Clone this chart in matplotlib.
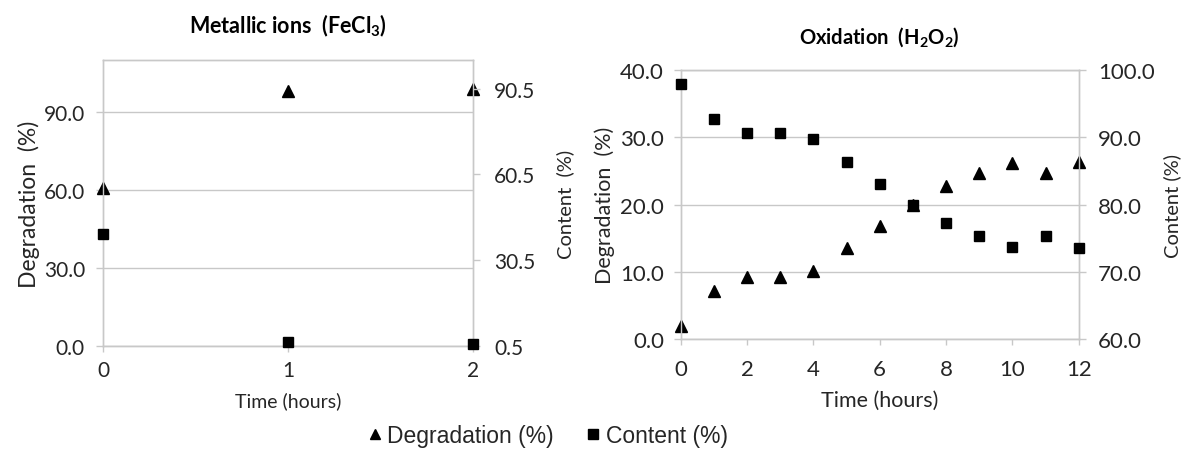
import matplotlib
matplotlib.use("Agg")
import matplotlib.pyplot as plt
from matplotlib.lines import Line2D

plt.rcParams['mathtext.default'] = 'regular'
plt.rcParams['font.family'] = ['Lato', 'DejaVu Sans']

# ---- data: Metallic ions (FeCl3) ----
fe_time = [0, 1, 2]
fe_degradation = [60.9, 98.2, 98.9]   # left axis
fe_content = [39.7, 2.0, 1.2]         # right axis

# ---- data: Oxidation (H2O2) ----
ox_time = [0, 1, 2, 3, 4, 5, 6, 7, 8, 9, 10, 11, 12]
ox_degradation = [1.9, 7.2, 9.2, 9.2, 10.2, 13.6, 16.8, 19.9, 22.7, 24.7, 26.2, 24.7, 26.4]
ox_content = [98.0, 92.7, 90.7, 90.7, 89.7, 86.3, 83.0, 79.9, 77.2, 75.3, 73.7, 75.3, 73.5]

fe_left_ticks = [0, 30, 60, 90]
fe_right_ticks = [0.5, 30.5, 60.5, 90.5]
ox_left_ticks = [0, 10, 20, 30, 40]
ox_right_ticks = [60, 70, 80, 90, 100]

GRID = '#c8c8c8'
TXT = '#262626'

fig = plt.figure(figsize=(11.88, 4.56), dpi=100)


def style_axes(ax, ax2, tick_size):
    for a in (ax, ax2):
        for s in a.spines.values():
            s.set_color(GRID)
            s.set_linewidth(1.0)
        a.tick_params(colors=GRID, labelcolor=TXT, length=5, width=1.0,
                      labelsize=tick_size)
    ax.yaxis.grid(True, color=GRID, linewidth=1.0)
    ax.set_axisbelow(True)


# ================= left panel =================
ax1 = fig.add_axes([0.0867, 0.239, 0.3115, 0.627])
ax1b = ax1.twinx()
ax1.plot(fe_time, fe_degradation, '^', color='black', markersize=9, zorder=3)
ax1b.plot(fe_time, fe_content, 's', color='black', markersize=7.5, zorder=3)
ax1.set_xlim(0, 2)
ax1.set_ylim(0, 110)
ax1b.set_ylim(0.5, 100.5)
ax1.set_xticks(fe_time)
ax1.set_yticks(fe_left_ticks)
ax1.set_yticklabels([f'{v:.1f}' for v in fe_left_ticks])
ax1b.set_yticks(fe_right_ticks)
ax1b.set_yticklabels([f'{v:.1f}' for v in fe_right_ticks])
style_axes(ax1, ax1b, 15)
ax1.tick_params(axis='x', length=4, pad=6)
ax1b.tick_params(axis='y', pad=10)
ax1.tick_params(axis='y', pad=8)
ax1.set_title('Metallic ions  (FeCl$_3$)', fontsize=15.5, fontweight='bold',
              color='black', pad=20)
ax1.set_xlabel('Time (hours)', fontsize=14, color=TXT, labelpad=8)
ax1.set_ylabel('Degradation  (%)', fontsize=16.5, color=TXT, labelpad=3)
ax1b.set_ylabel('Content  (%)', fontsize=14.5, color=TXT, labelpad=15)
for a in (ax1, ax1b):
    for p in a.lines:
        p.set_clip_on(False)

# ================= right panel =================
ax2 = fig.add_axes([0.573, 0.254, 0.335, 0.59])
ax2b = ax2.twinx()
ax2.plot(ox_time, ox_degradation, '^', color='black', markersize=8, zorder=3)
ax2b.plot(ox_time, ox_content, 's', color='black', markersize=7.5, zorder=3)
ax2.set_xlim(0, 12)
ax2.set_ylim(0, 40)
ax2b.set_ylim(60, 100)
ax2.set_xticks(ox_time[::2])
ax2.set_yticks(ox_left_ticks)
ax2.set_yticklabels([f'{v:.1f}' for v in ox_left_ticks])
ax2b.set_yticks(ox_right_ticks)
ax2b.set_yticklabels([f'{v:.1f}' for v in ox_right_ticks])
style_axes(ax2, ax2b, 16)
ax2.tick_params(axis='x', length=4, pad=10)
ax2.tick_params(axis='y', pad=7)
ax2b.tick_params(axis='y', pad=9)
ax2.set_title('Oxidation  (H$_2$O$_2$)', fontsize=14.5, fontweight='bold',
              color='black', pad=20)
ax2.set_xlabel('Time (hours)', fontsize=15.5, color=TXT, labelpad=8)
ax2.set_ylabel('Degradation  (%)', fontsize=15.5, color=TXT, labelpad=4)
ax2b.set_ylabel('Content (%)', fontsize=14.5, color=TXT, labelpad=6)
for a in (ax2, ax2b):
    for p in a.lines:
        p.set_clip_on(False)

# ================= legend =================
handles = [
    Line2D([], [], marker='^', linestyle='none', color='black', markersize=7),
    Line2D([], [], marker='s', linestyle='none', color='black', markersize=6.5),
]
fig.legend(handles, ['Degradation (%)', 'Content (%)'], loc='center',
           bbox_to_anchor=(0.461, 0.042), ncol=2, frameon=False,
           handlelength=0.6, handletextpad=0.25, columnspacing=1.4,
           prop={'family': ['Liberation Sans', 'DejaVu Sans'], 'size': 16.5},
           labelcolor=TXT)

fig.savefig('out.png', dpi=100, facecolor='white')
